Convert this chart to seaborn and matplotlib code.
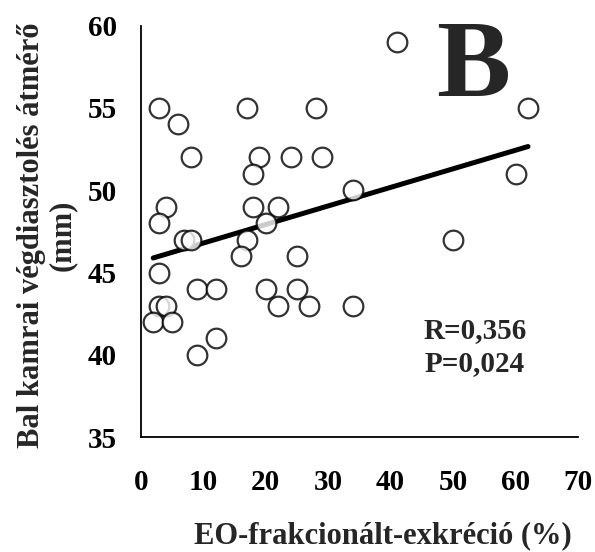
import numpy as np
import pandas as pd
import matplotlib
matplotlib.use("Agg")
import matplotlib.pyplot as plt
import seaborn as sns

# EO-frakcionált-exkréció (%) és bal kamrai végdiasztolés átmérő (mm)
eo_exkrecio = [3, 6, 17, 28, 8, 19, 24, 29, 18, 34,
               4, 3, 18, 22, 20, 7, 8, 17, 16, 25,
               3, 9, 12, 20, 25, 3, 4, 22, 27, 34,
               2, 5, 12, 9, 41, 62, 60, 50]
lvedd = [55, 54, 55, 55, 52, 52, 52, 52, 51, 50,
         49, 48, 49, 49, 48, 47, 47, 47, 46, 46,
         45, 44, 44, 44, 44, 43, 43, 43, 43, 43,
         42, 42, 41, 40, 59, 55, 51, 47]

x_ticks = [0, 10, 20, 30, 40, 50, 60, 70]
y_ticks = [35, 40, 45, 50, 55, 60]

df = pd.DataFrame({"eo": eo_exkrecio, "lvedd": lvedd})

sns.set_style("white")
plt.rcParams["font.family"] = ["Liberation Serif", "DejaVu Serif"]
plt.rcParams["font.weight"] = "bold"

fig = plt.figure(figsize=(5.95, 5.52), dpi=100)
ax = fig.add_axes([0.2365, 0.2078, 0.7349, 0.746])

sns.regplot(data=df, x="eo", y="lvedd", ax=ax, ci=None,
            scatter_kws=dict(s=200, facecolors="white", edgecolors="black",
                             linewidths=1.6, zorder=3),
            line_kws=dict(color="black", lw=3.6, zorder=2))

ax.set_xlim(0, 70)
ax.set_ylim(35, 60)
ax.set_xticks(x_ticks)
ax.set_yticks(y_ticks)
ax.tick_params(axis="both", direction="out", length=7, width=1.2,
               colors="black", labelsize=21)
ax.tick_params(axis="x", pad=16)
ax.tick_params(axis="y", pad=10)
for lab in ax.get_xticklabels() + ax.get_yticklabels():
    lab.set_fontweight("bold")

for s in ["top", "right"]:
    ax.spines[s].set_visible(False)
for s in ["left", "bottom"]:
    ax.spines[s].set_color("black")
    ax.spines[s].set_linewidth(1.3)

ax.set_xlabel("EO-frakcionált-exkréció (%)", fontsize=22, fontweight="bold")
ax.xaxis.set_label_coords(0.553, -0.203)
ax.set_ylabel("Bal kamrai végdiasztolés átmérő\n(mm)", fontsize=22,
              fontweight="bold", linespacing=1.1)
ax.yaxis.set_label_coords(-0.145, 0.49)

ax.text(53.2, 57.35, "B", fontsize=80, fontweight="bold", ha="center",
        va="center")
ax.text(53.5, 40.5, "R=0,356\nP=0,024", fontsize=21, fontweight="bold",
        ha="center", va="center", linespacing=1.3)

fig.savefig("out.png", dpi=100)
